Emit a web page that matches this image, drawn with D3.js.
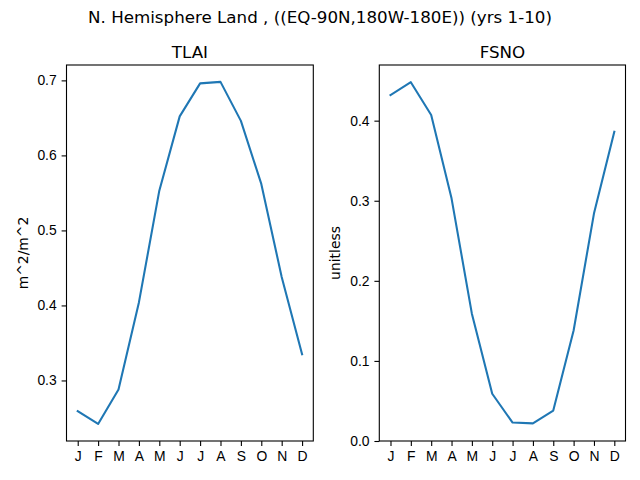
<!DOCTYPE html>
<html>
<head>
<meta charset="utf-8">
<script src="https://cdn.jsdelivr.net/npm/d3@7"></script>
<style>
  body { margin: 0; background: #fff; }
  svg { font-family: "DejaVu Sans", sans-serif; }
  .tick text { font-size: 13.9px; fill: #000; }
  .tick line { stroke: #000; stroke-width: 1.1px; }
  .domain { display: none; }
</style>
</head>
<body>
<div id="chart"></div>
<script>
// Month labels along the x-axis.
var months = ['J', 'F', 'M', 'A', 'M', 'J', 'J', 'A', 'S', 'O', 'N', 'D'];

// Monthly climatology values.
var tlai = [0.259, 0.242, 0.288, 0.404, 0.553, 0.652, 0.696, 0.698, 0.646, 0.562, 0.438, 0.335];
var fsno = [0.432, 0.448, 0.407, 0.303, 0.159, 0.059, 0.023, 0.022, 0.038, 0.138, 0.284, 0.386];

// Tick values for each panel.
var tlaiTicks = [0.3, 0.4, 0.5, 0.6, 0.7];
var fsnoTicks = [0.0, 0.1, 0.2, 0.3, 0.4];

var width = 640,
    height = 480;

var svg = d3.select('#chart')
    .append('svg')
        .attr('width', width)
        .attr('height', height);

// Overall title.
svg.append('text')
    .attr('x', width / 2)
    .attr('y', 23)
    .attr('text-anchor', 'middle')
    .style('font-size', '16.7px')
    .text('N. Hemisphere Land , ((EQ-90N,180W-180E)) (yrs 1-10)');

// Draw one panel of the figure.
function drawPanel(opts) {
    var w = opts.right - opts.left,
        h = 441 - 65;

    var g = svg.append('g')
        .attr('transform', 'translate(' + opts.left + ', 65)');

    var x = d3.scaleLinear()
        .domain([-0.55, 11.55])
        .range([0, w]);

    var y = d3.scaleLinear()
        .domain(opts.domain)
        .range([h, 0]);

    var xAxisCall = d3.axisBottom(x)
        .tickValues(d3.range(12))
        .tickSize(4.9)
        .tickPadding(4.9)
        .tickFormat(function(d){ return months[d]; });

    var yAxisCall = d3.axisLeft(y)
        .tickValues(opts.ticks)
        .tickSize(4.9)
        .tickPadding(4.9)
        .tickFormat(d3.format('.1f'));

    g.append('g')
        .attr('class', 'x-axis')
        .attr('transform', 'translate(0, ' + h + ')')
        .call(xAxisCall);

    g.append('g')
        .attr('class', 'y-axis')
        .call(yAxisCall);

    var line = d3.line()
        .x(function(d, i){ return x(i); })
        .y(function(d){ return y(d); });

    g.append('path')
        .datum(opts.values)
        .attr('d', line)
        .attr('fill', 'none')
        .attr('stroke', '#1f77b4')
        .attr('stroke-width', 2.08)
        .attr('stroke-linejoin', 'round')
        .attr('stroke-linecap', 'square');

    // Axes frame.
    g.append('rect')
        .attr('width', w)
        .attr('height', h)
        .attr('fill', 'none')
        .attr('stroke', '#000')
        .attr('stroke-width', 1.1);

    // Panel title.
    g.append('text')
        .attr('x', w / 2)
        .attr('y', -7)
        .attr('text-anchor', 'middle')
        .style('font-size', '16.7px')
        .text(opts.title);

    // Y-axis label.
    g.append('text')
        .attr('transform', 'translate(' + opts.labelX + ', ' + (h / 2) + ') rotate(-90)')
        .attr('text-anchor', 'middle')
        .style('font-size', '13.9px')
        .text(opts.ylabel);
}

drawPanel({
    left: 66.5, right: 313.3,
    domain: [0.2193, 0.7205],
    ticks: tlaiTicks,
    values: tlai,
    title: 'TLAI',
    ylabel: 'm^2/m^2',
    labelX: -39
});

drawPanel({
    left: 379.3, right: 625.5,
    domain: [0, 0.4695],
    ticks: fsnoTicks,
    values: fsno,
    title: 'FSNO',
    ylabel: 'unitless',
    labelX: -39
});
</script>
</body>
</html>
